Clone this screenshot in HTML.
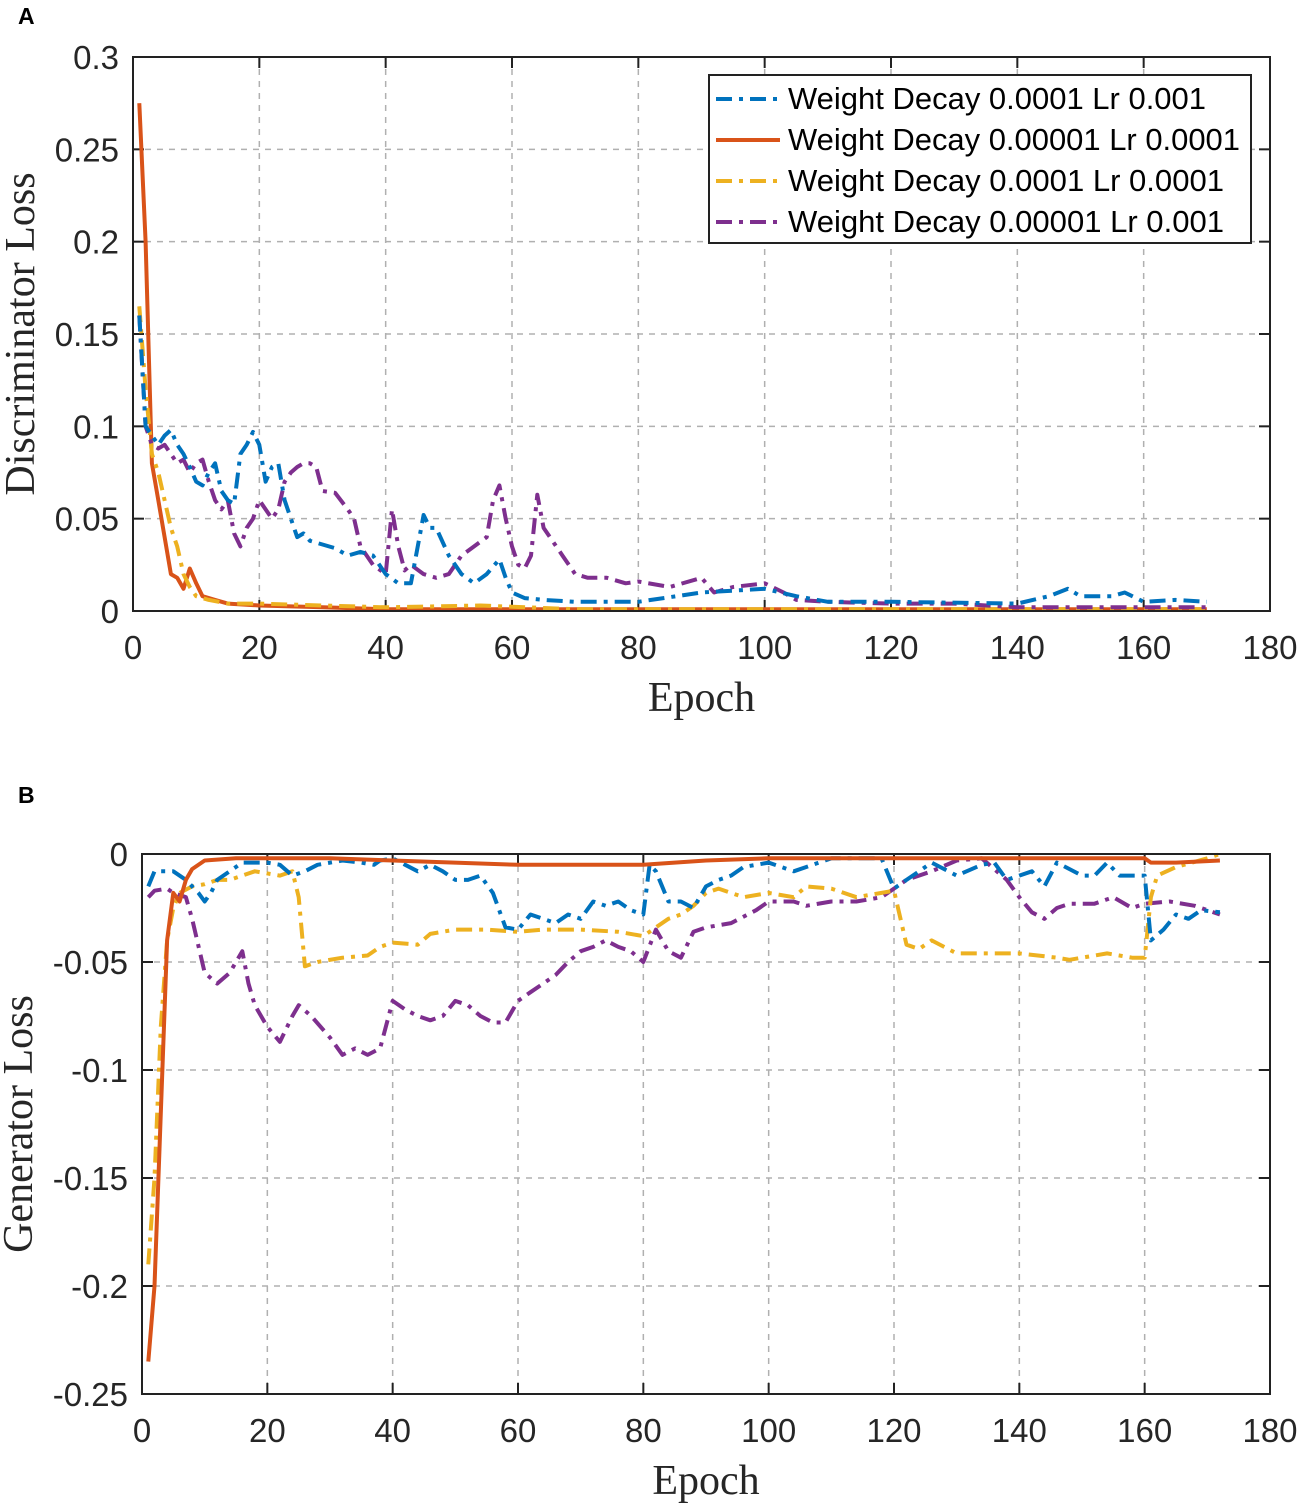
<!DOCTYPE html>
<html><head><meta charset="utf-8"><style>
body{margin:0;background:#fff;}
svg{display:block;font-family:"Liberation Sans",sans-serif;}
</style></head><body>
<svg id="fig" width="1299" height="1505" viewBox="0 0 1299 1505"></svg>
<script>
// ---- Panel A data (epoch, value) ----
const aBlueX=[1,2,3,4,5,6,7,8,9,10,11,12,13,14,15,16,17,18,19,20,21,22,23,24,25,26,27,28,30,32,34,36,38,40,42,44,46,47,48,50,52,54,56,58,59,60,62,65,70,80,90,100,105,110,120,140,145,148,150,155,157,160,165,170];
const aBlueY=[0.16,0.1,0.095,0.09,0.095,0.098,0.09,0.085,0.078,0.07,0.068,0.075,0.08,0.065,0.06,0.058,0.085,0.09,0.097,0.09,0.07,0.078,0.08,0.06,0.05,0.04,0.042,0.038,0.036,0.034,0.03,0.032,0.03,0.02,0.015,0.015,0.052,0.045,0.045,0.03,0.02,0.015,0.02,0.028,0.018,0.01,0.007,0.006,0.005,0.005,0.01,0.012,0.008,0.005,0.005,0.004,0.008,0.012,0.008,0.008,0.01,0.005,0.006,0.005];
const aPurpX=[1,2,3,4,5,6,7,8,9,10,11,12,13,14,15,16,17,18,19,20,21,22,23,24,25,26,27,28,29,30,32,34,35,36,37,38,40,41,42,43,44,46,48,50,52,54,56,57,58,59,60,61,62,63,64,65,66,68,70,72,75,78,80,85,90,92,95,100,103,105,110,120,130,140,150,160,170];
const aPurpY=[0.16,0.1,0.09,0.088,0.09,0.085,0.08,0.082,0.075,0.08,0.082,0.07,0.06,0.055,0.06,0.042,0.035,0.045,0.05,0.06,0.055,0.05,0.055,0.07,0.075,0.078,0.08,0.08,0.078,0.065,0.064,0.055,0.05,0.035,0.03,0.025,0.02,0.055,0.035,0.022,0.025,0.02,0.018,0.02,0.03,0.035,0.04,0.06,0.068,0.05,0.035,0.025,0.023,0.03,0.063,0.045,0.04,0.03,0.02,0.018,0.018,0.015,0.016,0.013,0.018,0.01,0.013,0.015,0.01,0.006,0.005,0.004,0.004,0.002,0.002,0.002,0.002];
const aOrX=[1,2,3,4,5,6,7,8,9,10,11,13,15,20,30,40,170];
const aOrY=[0.275,0.2,0.08,0.06,0.04,0.02,0.018,0.012,0.023,0.015,0.008,0.006,0.004,0.003,0.002,0.001,0.001];
const aYelX=[1,2,3,4,5,6,7,8,9,10,12,15,20,30,40,55,70,170];
const aYelY=[0.165,0.12,0.085,0.075,0.06,0.045,0.035,0.02,0.013,0.008,0.006,0.004,0.004,0.003,0.002,0.003,0.001,0.001];
// ---- Panel B data ----
const bBlueX=[1,2,5,7,9,10,11,12,14,16,20,22,24,26,28,32,35,37,38,40,42,44,46,48,50,52,54,56,58,60,62,64,66,68,70,72,74,76,78,80,81,82,84,86,88,90,92,94,96,100,104,106,110,114,118,120,122,124,126,130,134,136,138,140,142,144,146,150,152,154,156,158,160,161,163,165,167,169,172];
const bBlueY=[-0.015,-0.008,-0.008,-0.012,-0.018,-0.022,-0.018,-0.012,-0.008,-0.004,-0.004,-0.005,-0.01,-0.008,-0.005,-0.003,-0.004,-0.005,-0.003,-0.002,-0.005,-0.008,-0.005,-0.008,-0.012,-0.012,-0.01,-0.018,-0.034,-0.035,-0.028,-0.03,-0.032,-0.028,-0.03,-0.022,-0.024,-0.022,-0.026,-0.028,-0.005,-0.008,-0.022,-0.022,-0.025,-0.015,-0.012,-0.01,-0.006,-0.004,-0.008,-0.006,-0.002,-0.002,-0.002,-0.016,-0.012,-0.008,-0.004,-0.01,-0.005,-0.004,-0.012,-0.01,-0.008,-0.015,-0.004,-0.01,-0.01,-0.004,-0.01,-0.01,-0.01,-0.04,-0.035,-0.028,-0.03,-0.026,-0.027];
const bOrX=[1,2,3,4,5,6,7,8,10,15,30,40,60,80,90,100,120,140,160,161,165,172];
const bOrY=[-0.235,-0.2,-0.12,-0.04,-0.018,-0.022,-0.012,-0.007,-0.003,-0.002,-0.002,-0.003,-0.005,-0.005,-0.003,-0.002,-0.002,-0.002,-0.002,-0.004,-0.004,-0.003];
const bYelX=[1,2,3,4,5,6,8,10,12,14,16,18,22,24,25,26,28,32,36,38,40,44,46,50,55,60,64,70,76,80,84,86,88,90,92,96,100,104,106,110,114,118,120,122,124,126,130,136,140,146,148,154,158,160,161,162,165,170,172];
const bYelY=[-0.19,-0.15,-0.08,-0.04,-0.025,-0.018,-0.015,-0.014,-0.012,-0.012,-0.01,-0.008,-0.01,-0.008,-0.02,-0.052,-0.05,-0.048,-0.047,-0.043,-0.041,-0.042,-0.037,-0.035,-0.035,-0.036,-0.035,-0.035,-0.036,-0.038,-0.03,-0.028,-0.024,-0.018,-0.016,-0.02,-0.018,-0.02,-0.015,-0.016,-0.02,-0.018,-0.017,-0.042,-0.044,-0.04,-0.046,-0.046,-0.046,-0.048,-0.049,-0.046,-0.048,-0.048,-0.02,-0.01,-0.006,-0.002,0];
const bPurpX=[1,2,4,5,7,8,10,12,14,16,17,18,20,22,24,25,27,30,32,34,36,38,40,42,44,46,48,50,52,54,56,58,60,62,64,66,68,70,72,74,76,78,80,82,84,86,88,90,94,98,100,104,106,110,114,118,122,126,130,134,138,140,142,144,146,148,152,155,158,160,164,168,172];
const bPurpY=[-0.02,-0.017,-0.016,-0.018,-0.02,-0.03,-0.055,-0.06,-0.055,-0.045,-0.06,-0.07,-0.08,-0.087,-0.075,-0.07,-0.075,-0.085,-0.093,-0.09,-0.093,-0.09,-0.068,-0.072,-0.075,-0.077,-0.075,-0.068,-0.07,-0.075,-0.078,-0.078,-0.068,-0.064,-0.06,-0.056,-0.05,-0.045,-0.043,-0.04,-0.043,-0.045,-0.05,-0.035,-0.045,-0.048,-0.036,-0.034,-0.032,-0.026,-0.022,-0.022,-0.024,-0.022,-0.022,-0.02,-0.012,-0.008,-0.003,-0.002,-0.012,-0.02,-0.027,-0.03,-0.025,-0.023,-0.023,-0.02,-0.025,-0.023,-0.022,-0.024,-0.028];
const xTicks=[0,20,40,60,80,100,120,140,160,180];
const aYTicks=[0,0.05,0.1,0.15,0.2,0.25,0.3];
const aYLabels=["0","0.05","0.1","0.15","0.2","0.25","0.3"];
const bYTicks=[0,-0.05,-0.1,-0.15,-0.2,-0.25];
const bYLabels=["0","-0.05","-0.1","-0.15","-0.2","-0.25"];
const legendLabels=["Weight Decay 0.0001 Lr 0.001","Weight Decay 0.00001 Lr 0.0001","Weight Decay 0.0001 Lr 0.0001","Weight Decay 0.00001 Lr 0.001"];

const NS="http://www.w3.org/2000/svg";
const svg=document.getElementById('fig');
function mk(tag,attrs,parent){const e=document.createElementNS(NS,tag);for(const k in attrs)e.setAttribute(k,attrs[k]);(parent||svg).appendChild(e);return e;}
const C={blue:"#0072BD",or:"#D95319",yel:"#EDB120",pur:"#7E2F8E"};
const DD="16 7 4 7";

function panel(p){
  const g=mk('g',{});
  
  
  const sx=v=>p.x0+(v-p.xmin)/(p.xmax-p.xmin)*(p.x1-p.x0);
  const sy=v=>p.y1-(v-p.ymin)/(p.ymax-p.ymin)*(p.y1-p.y0);
  mk('rect',{x:p.x0,y:p.y0,width:p.x1-p.x0,height:p.y1-p.y0,fill:'#fff'},g);
  xTicks.forEach(t=>{const x=sx(t);
    if(t>p.xmin&&t<p.xmax){const l=mk('line',{x1:x,x2:x,y1:p.y0,y2:p.y1,stroke:'#b0b0b0','stroke-width':1.5,'stroke-dasharray':'6 6'},g);}
    mk('line',{x1:x,x2:x,y1:p.y1,y2:p.y1-11,stroke:'#222','stroke-width':2},g);
    mk('line',{x1:x,x2:x,y1:p.y0,y2:p.y0+11,stroke:'#222','stroke-width':2},g);
    const tx=mk('text',{x:x,y:p.y1+48,'text-anchor':'middle','font-size':33,fill:'#262626'},g);tx.textContent=t;
    
  });
  p.yt.forEach((t,i)=>{const y=sy(t);
    if(t>p.ymin&&t<p.ymax){const l=mk('line',{x1:p.x0,x2:p.x1,y1:y,y2:y,stroke:'#b0b0b0','stroke-width':1.5,'stroke-dasharray':'6 6'},g);}
    mk('line',{x1:p.x0,x2:p.x0+11,y1:y,y2:y,stroke:'#222','stroke-width':2},g);
    mk('line',{x1:p.x1,x2:p.x1-11,y1:y,y2:y,stroke:'#222','stroke-width':2},g);
    const tx=mk('text',{x:p.x0-14,y:y+12,'text-anchor':'end','font-size':33,fill:'#262626'},g);tx.textContent=p.yl[i];
    
  });
  p.series.forEach(s=>{
    const d=s.x.map((v,i)=>(i?'L':'M')+sx(v).toFixed(1)+','+sy(s.y[i]).toFixed(1)).join('');
    const a={d:d,fill:'none',stroke:s.c,'stroke-width':4,'stroke-linejoin':'round'};
    if(s.dash)a['stroke-dasharray']=s.dash;
    const pa=mk('path',a,g);
    
    
  });
  const fr=mk('rect',{x:p.x0,y:p.y0,width:p.x1-p.x0,height:p.y1-p.y0,fill:'none',stroke:'#222','stroke-width':2},g);
  
  const xt=mk('text',{x:(p.x0+p.x1)/2,y:p.y1+100,'text-anchor':'middle','font-size':42,'font-family':'"Liberation Serif",serif',fill:'#262626'},g);xt.textContent='Epoch';
  
  const yc=(p.y0+p.y1)/2;
  const yt=mk('text',{x:0,y:0,transform:`translate(${p.ytx},${yc}) rotate(-90)`,'text-anchor':'middle','font-size':42,'font-family':'"Liberation Serif",serif',fill:'#262626'},g);yt.textContent=p.ytitle;
  
  const pl=mk('text',{x:18,y:p.labY,'font-size':23,'font-weight':'bold',fill:'#000'},g);pl.textContent=p.lab;
  
  return g;
}
panel({name:'panel-a-discriminator-loss',x0:133,x1:1270,y0:57,y1:611,xmin:0,xmax:180,ymin:0,ymax:0.3,yt:aYTicks,yl:aYLabels,ytitle:'Discriminator Loss',ytx:34,lab:'A',labY:24,
  series:[{x:aOrX,y:aOrY,c:C.or,n:'series-wd1e-5-lr1e-4'},{x:aYelX,y:aYelY,c:C.yel,dash:DD,n:'series-wd1e-4-lr1e-4'},{x:aPurpX,y:aPurpY,c:C.pur,dash:DD,n:'series-wd1e-5-lr1e-3'},{x:aBlueX,y:aBlueY,c:C.blue,dash:DD,n:'series-wd1e-4-lr1e-3'}]});
panel({name:'panel-b-generator-loss',x0:142,x1:1270,y0:854,y1:1394,xmin:0,xmax:180,ymin:-0.25,ymax:0,yt:bYTicks,yl:bYLabels,ytitle:'Generator Loss',ytx:32,lab:'B',labY:803,
  series:[{x:bPurpX,y:bPurpY,c:C.pur,dash:DD,n:'series-wd1e-5-lr1e-3'},{x:bYelX,y:bYelY,c:C.yel,dash:DD,n:'series-wd1e-4-lr1e-4'},{x:bBlueX,y:bBlueY,c:C.blue,dash:DD,n:'series-wd1e-4-lr1e-3'},{x:bOrX,y:bOrY,c:C.or,n:'series-wd1e-5-lr1e-4'}]});
// legend
const lg=mk('g',{});


mk('rect',{x:709,y:75,width:542,height:168,fill:'#fff',stroke:'#222','stroke-width':2},lg);
const lc=[C.blue,C.or,C.yel,C.pur],ld=[DD,null,DD,DD];
legendLabels.forEach((t,i)=>{const y=99+i*41;
  const ln=mk('line',{x1:716,x2:780,y1:y,y2:y,stroke:lc[i],'stroke-width':4},lg);
  if(ld[i])ln.setAttribute('stroke-dasharray',ld[i]);
  
  const tx=mk('text',{x:788,y:y+10,'font-size':31,fill:'#000',textLength:i===1?452:(i===3?436:(i===2?436:418)),lengthAdjust:'spacingAndGlyphs'},lg);tx.textContent=t;
  
});
</script>
</body></html>
